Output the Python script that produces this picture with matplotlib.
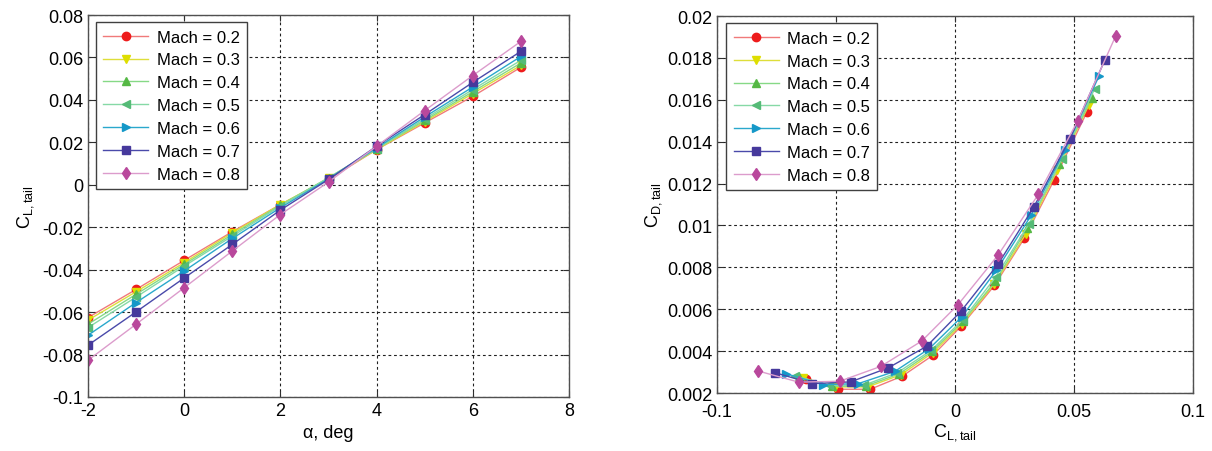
import matplotlib
matplotlib.use("Agg")
import matplotlib.pyplot as plt
from matplotlib.ticker import FormatStrFormatter

plt.rcParams['font.family'] = ['Liberation Sans', 'DejaVu Sans']
plt.rcParams['axes.unicode_minus'] = False
plt.rcParams['mathtext.fontset'] = 'custom'
plt.rcParams['mathtext.rm'] = 'Liberation Sans'

# angle of attack, deg
alpha = [-2, -1, 0, 1, 2, 3, 4, 5, 6, 7]

mach_labels = ["Mach = 0.2", "Mach = 0.3", "Mach = 0.4", "Mach = 0.5",
               "Mach = 0.6", "Mach = 0.7", "Mach = 0.8"]

# tail lift coefficient per Mach number
cl_m02 = [-0.0626, -0.0493, -0.0356, -0.0221, -0.0093, 0.0025, 0.0166, 0.0292, 0.0417, 0.0554]
cl_m03 = [-0.0638, -0.0504, -0.0367, -0.0226, -0.0093, 0.0030, 0.0166, 0.0298, 0.0430, 0.0563]
cl_m04 = [-0.0657, -0.0516, -0.0375, -0.0234, -0.0096, 0.0033, 0.0169, 0.0304, 0.0439, 0.0574]
cl_m05 = [-0.0673, -0.0529, -0.0383, -0.0242, -0.0100, 0.0033, 0.0171, 0.0311, 0.0449, 0.0587]
cl_m06 = [-0.0709, -0.0555, -0.0406, -0.0253, -0.0108, 0.0028, 0.0174, 0.0320, 0.0461, 0.0605]
cl_m07 = [-0.0756, -0.0599, -0.0439, -0.0281, -0.0119, 0.0025, 0.0182, 0.0331, 0.0483, 0.0629]
cl_m08 = [-0.0827, -0.0657, -0.0485, -0.0312, -0.0140, 0.0013, 0.0182, 0.0350, 0.0515, 0.0676]

# tail drag coefficient per Mach number
cd_m02 = [0.00268, 0.00218, 0.00218, 0.00281, 0.00380, 0.00518, 0.00714, 0.00940, 0.01218, 0.01541]
cd_m03 = [0.00272, 0.00229, 0.00229, 0.00288, 0.00393, 0.00531, 0.00722, 0.00960, 0.01263, 0.01576]
cd_m04 = [0.00276, 0.00232, 0.00233, 0.00292, 0.00399, 0.00542, 0.00733, 0.00988, 0.01295, 0.01608]
cd_m05 = [0.00281, 0.00237, 0.00237, 0.00297, 0.00404, 0.00550, 0.00754, 0.01008, 0.01319, 0.01653]
cd_m06 = [0.00292, 0.00240, 0.00245, 0.00303, 0.00412, 0.00563, 0.00786, 0.01048, 0.01358, 0.01713]
cd_m07 = [0.00297, 0.00245, 0.00253, 0.00320, 0.00423, 0.00590, 0.00817, 0.01088, 0.01414, 0.01788]
cd_m08 = [0.00305, 0.00252, 0.00256, 0.00327, 0.00448, 0.00622, 0.00860, 0.01148, 0.01498, 0.01907]

cl_all = [cl_m02, cl_m03, cl_m04, cl_m05, cl_m06, cl_m07, cl_m08]
cd_all = [cd_m02, cd_m03, cd_m04, cd_m05, cd_m06, cd_m07, cd_m08]

markers = ['o', 'v', '^', '<', '>', 's', 'd']
line_colors = ['#f07a7a', '#dede3a', '#86d986', '#86d9a6', '#2aa8cc', '#4a4aaa', '#dc9ccc']
marker_colors = ['#ee1c1c', '#dede00', '#55b844', '#55bb77', '#1598c8', '#46399c', '#b9489c']

fig = plt.figure(figsize=(12.12, 4.52), dpi=100)
ax1 = fig.add_axes([0.0726, 0.1195, 0.3969, 0.845])
ax2 = fig.add_axes([0.5916, 0.1283, 0.3927, 0.834])


def style_axes(ax):
    ax.grid(True, color='#202020', linestyle=(0, (2.5, 2.5)), linewidth=0.8)
    ax.tick_params(direction='in', top=True, right=True, labelsize=13,
                   length=4, color='#303030')
    for sp in ax.spines.values():
        sp.set_color('#505050')
        sp.set_linewidth(1.0)


for i in range(7):
    ax1.plot(alpha, cl_all[i], color=line_colors[i], marker=markers[i],
             markerfacecolor=marker_colors[i], markeredgecolor=marker_colors[i],
             markersize=6, linewidth=1.0, label=mach_labels[i])
    ax2.plot(cl_all[i], cd_all[i], color=line_colors[i], marker=markers[i],
             markerfacecolor=marker_colors[i], markeredgecolor=marker_colors[i],
             markersize=6, linewidth=1.0, label=mach_labels[i])

ax1.set_xlim(-2, 8)
ax1.set_ylim(-0.1, 0.08)
ax1.set_xticks([-2, 0, 2, 4, 6, 8])
ax1.set_yticks([-0.1, -0.08, -0.06, -0.04, -0.02, 0, 0.02, 0.04, 0.06, 0.08])
ax1.yaxis.set_major_formatter(FormatStrFormatter('%g'))
ax1.set_xlabel('α, deg', fontsize=13)
ax1.set_ylabel(r'C$_{\mathrm{L,tail}}$', fontsize=13)
style_axes(ax1)

ax2.set_xlim(-0.1, 0.1)
ax2.set_ylim(0.002, 0.02)
ax2.set_xticks([-0.1, -0.05, 0, 0.05, 0.1])
ax2.set_yticks([0.002, 0.004, 0.006, 0.008, 0.01, 0.012, 0.014, 0.016, 0.018, 0.02])
ax2.xaxis.set_major_formatter(FormatStrFormatter('%g'))
ax2.yaxis.set_major_formatter(FormatStrFormatter('%g'))
ax2.set_xlabel(r'C$_{\mathrm{L,tail}}$', fontsize=13, labelpad=1)
ax2.set_ylabel(r'C$_{\mathrm{D,tail}}$', fontsize=13, labelpad=2)
style_axes(ax2)
ax2.tick_params(axis='x', pad=7)

for ax, anchor in [(ax1, (0.0166, 0.9817)), (ax2, (0.019, 0.981))]:
    leg = ax.legend(loc='upper left', bbox_to_anchor=anchor, borderaxespad=0,
                    fontsize=12, handlelength=2.7, labelspacing=0.47,
                    fancybox=False, framealpha=1, edgecolor='#404040',
                    borderpad=0.45, handletextpad=0.5)
    leg.get_frame().set_linewidth(1.0)

fig.savefig('out.png', dpi=100)
